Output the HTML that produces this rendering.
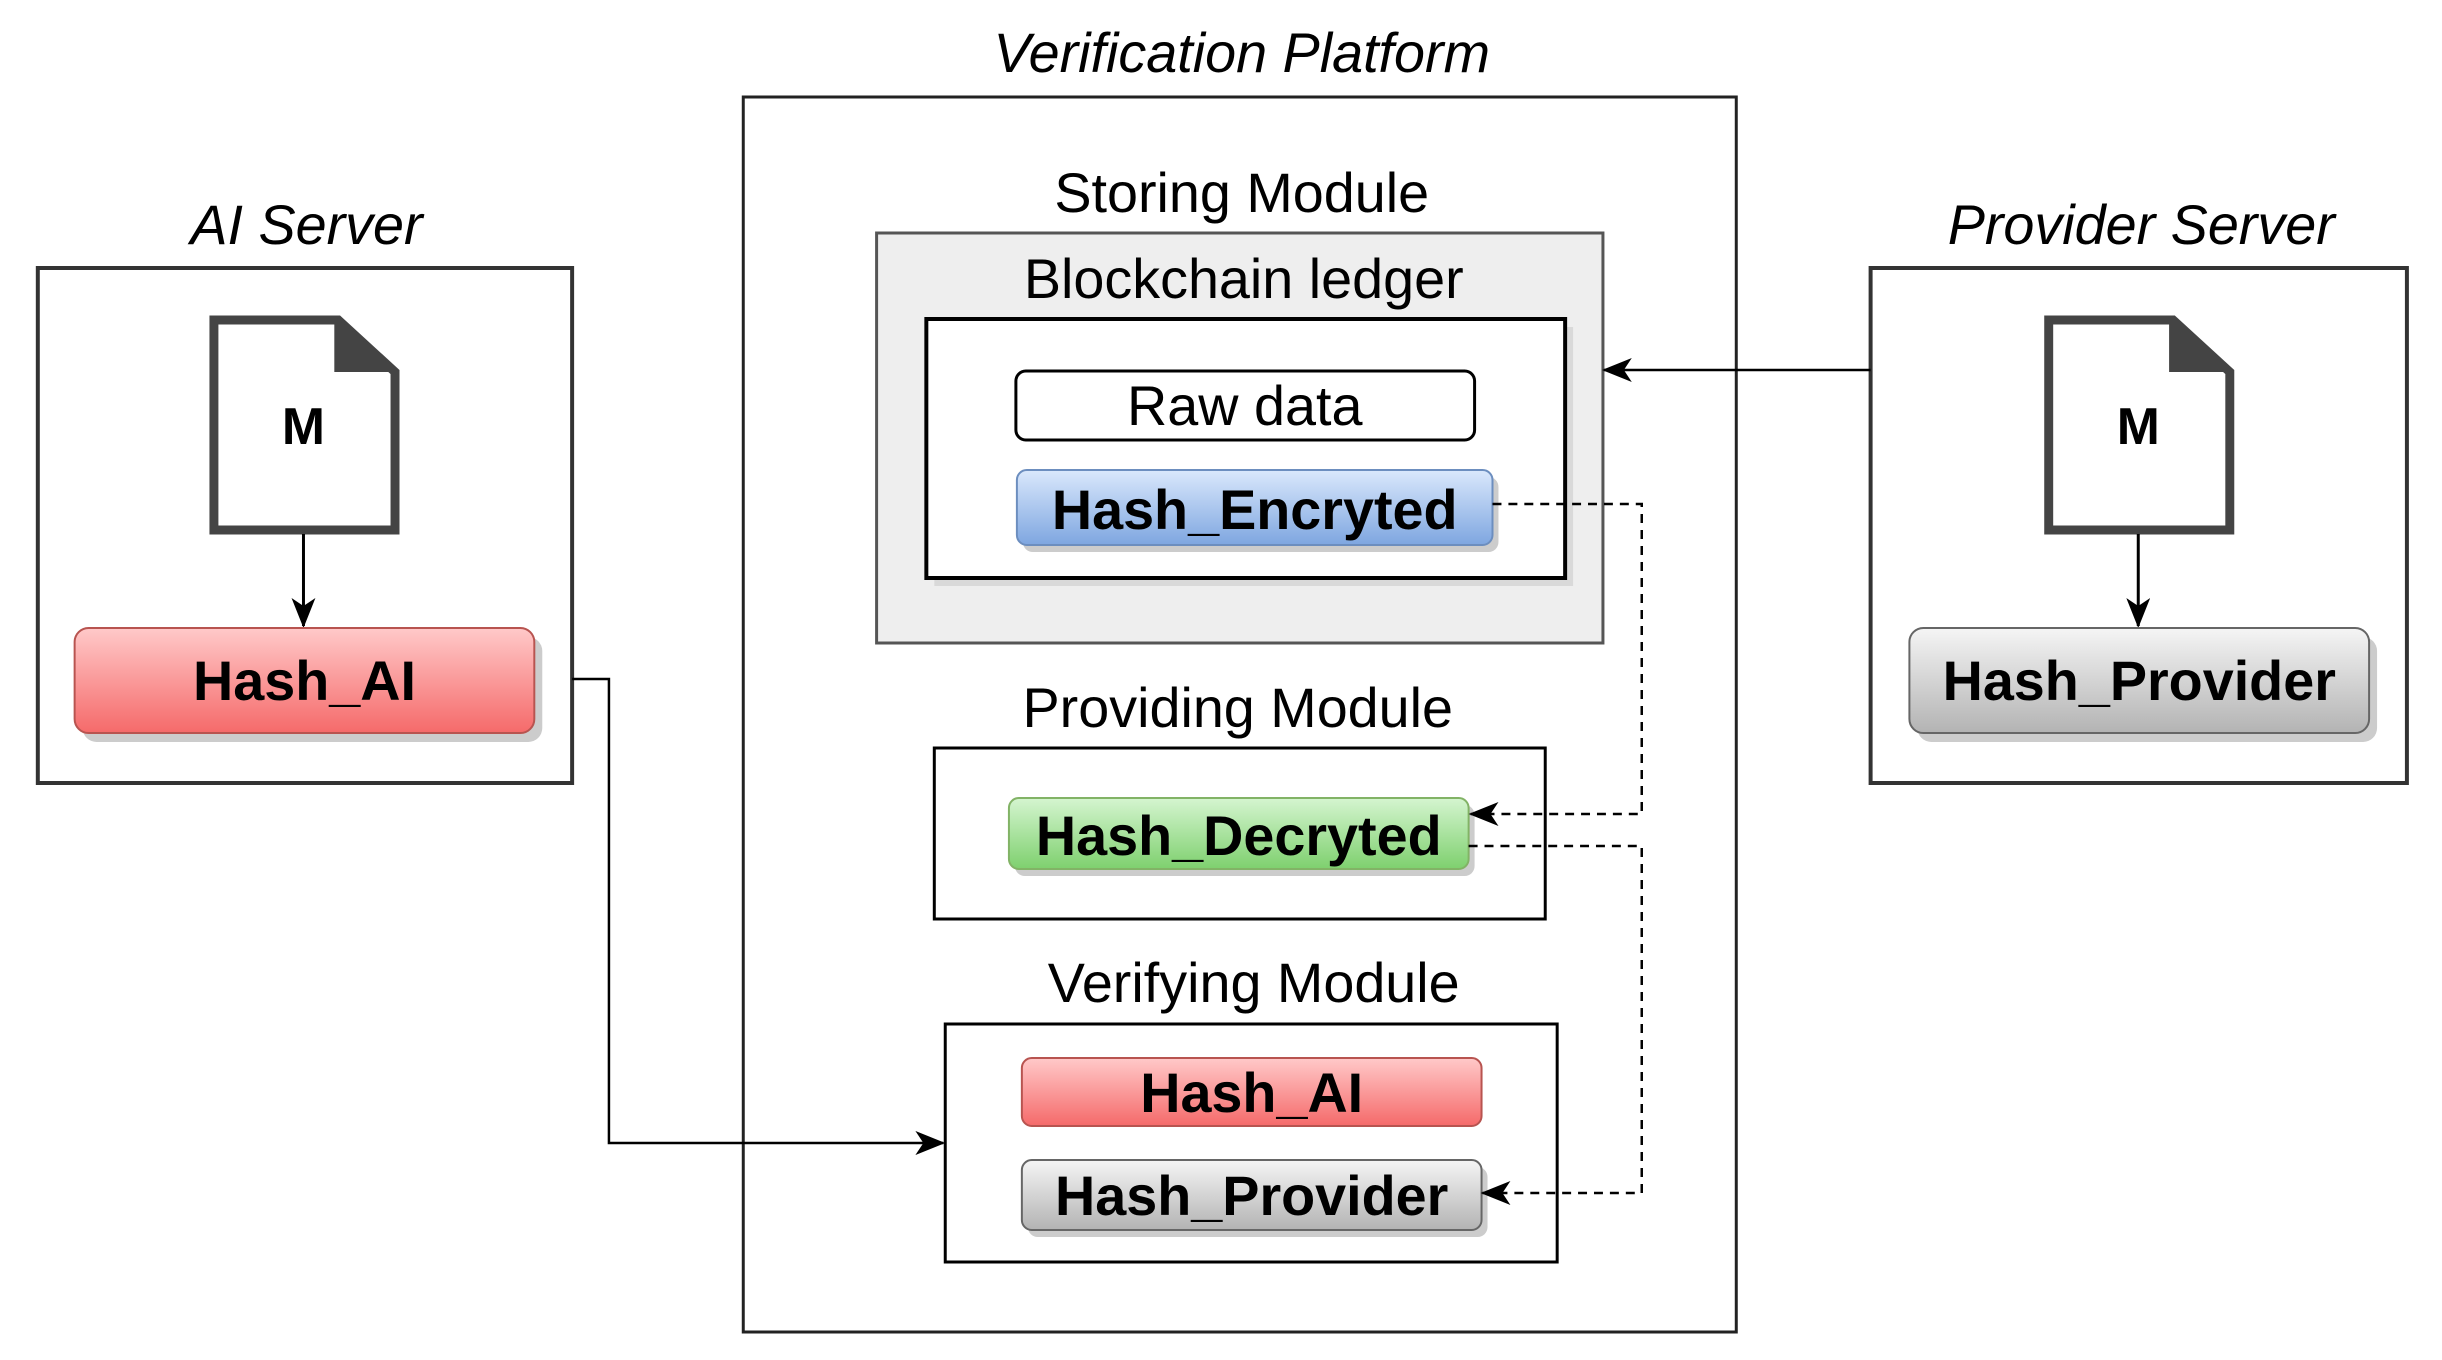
<!DOCTYPE html>
<html><head><meta charset="utf-8"><style>html,body{margin:0;padding:0;background:#fff}svg{display:block}</style></head>
<body>
<svg width="2442" height="1360" viewBox="0 0 2442 1360" xmlns="http://www.w3.org/2000/svg" font-family="Liberation Sans, DejaVu Sans, sans-serif">
<defs>
<linearGradient id="red" x1="0" y1="0" x2="0" y2="1"><stop offset="0" stop-color="#ffc9c9"/><stop offset="1" stop-color="#f56a6a"/></linearGradient>
<linearGradient id="gray" x1="0" y1="0" x2="0" y2="1"><stop offset="0" stop-color="#f5f5f5"/><stop offset="1" stop-color="#b3b3b3"/></linearGradient>
<linearGradient id="blue" x1="0" y1="0" x2="0" y2="1"><stop offset="0" stop-color="#dae8fc"/><stop offset="1" stop-color="#7ea6e0"/></linearGradient>
<linearGradient id="green" x1="0" y1="0" x2="0" y2="1"><stop offset="0" stop-color="#d5f5d0"/><stop offset="1" stop-color="#7ed06e"/></linearGradient>
<marker id="ar" markerWidth="30" markerHeight="24" refX="28" refY="12" orient="auto" markerUnits="userSpaceOnUse"><path d="M0,0 L30,12 L0,24 L8,12 Z" fill="#000"/></marker>
</defs>
<g transform="scale(0.995,1)">
<g font-size="56" text-anchor="middle">
<text x="1248" y="72" font-style="italic">Verification Platform</text>
<text x="308" y="244" font-style="italic">AI Server</text>
<text x="2152" y="244" font-style="italic">Provider Server</text>
</g>
<rect x="747" y="97" width="998" height="1235" fill="none" stroke="#222" stroke-width="3"/>
<text x="1248" y="212" font-size="56" text-anchor="middle">Storing Module</text>
<rect x="881" y="233" width="730" height="410" fill="#eeeeee" stroke="#555" stroke-width="3"/>
<text x="1250" y="298" font-size="56" text-anchor="middle">Blockchain ledger</text>
<rect x="939" y="327" width="642" height="259" fill="#ccc" opacity="0.6"/>
<rect x="931" y="319" width="642" height="259" fill="#fff" stroke="#000" stroke-width="4"/>
<rect x="1021" y="371" width="461" height="69" rx="10" fill="#fff" stroke="#000" stroke-width="3"/>
<text x="1251" y="425" font-size="56" text-anchor="middle">Raw data</text>
<rect x="1028" y="477" width="478" height="75" rx="10" fill="#ccc"/>
<rect x="1022" y="470" width="478" height="75" rx="10" fill="url(#blue)" stroke="#6c8ebf" stroke-width="2"/>
<text x="1261" y="529" font-size="56" font-weight="bold" text-anchor="middle">Hash_Encryted</text>
<text x="1244" y="727" font-size="56" text-anchor="middle">Providing Module</text>
<rect x="939" y="748" width="614" height="171" fill="#fff" stroke="#000" stroke-width="3"/>
<rect x="1020" y="805" width="462" height="71" rx="10" fill="#ccc"/>
<rect x="1014" y="798" width="462" height="71" rx="10" fill="url(#green)" stroke="#82b366" stroke-width="2"/>
<text x="1245" y="855" font-size="56" font-weight="bold" text-anchor="middle">Hash_Decryted</text>
<text x="1260" y="1002" font-size="56" text-anchor="middle">Verifying Module</text>
<rect x="950" y="1024" width="615" height="238" fill="#fff" stroke="#000" stroke-width="3"/>
<rect x="1027" y="1058" width="462" height="68" rx="10" fill="url(#red)" stroke="#b85450" stroke-width="2"/>
<text x="1258" y="1112" font-size="56" font-weight="bold" text-anchor="middle">Hash_AI</text>
<rect x="1033" y="1167" width="462" height="70" rx="10" fill="#ccc"/>
<rect x="1027" y="1160" width="462" height="70" rx="10" fill="url(#gray)" stroke="#666" stroke-width="2"/>
<text x="1258" y="1215" font-size="56" font-weight="bold" text-anchor="middle">Hash_Provider</text>
<rect x="38" y="268" width="537" height="515" fill="#fff" stroke="#333" stroke-width="4"/>
<path d="M215,320 L340,320 L397,372 L397,530 L215,530 Z" fill="#fff" stroke="#444" stroke-width="9"/>
<path d="M336,316 L401,372 L336,372 Z" fill="#444"/>
<text x="305" y="444" font-size="52" font-weight="bold" text-anchor="middle">M</text>
<line x1="305" y1="534" x2="305" y2="626" stroke="#000" stroke-width="3" marker-end="url(#ar)"/>
<rect x="83" y="637" width="462" height="105" rx="14" fill="#ccc"/>
<rect x="75" y="628" width="462" height="105" rx="14" fill="url(#red)" stroke="#b85450" stroke-width="2"/>
<text x="306" y="700" font-size="56" font-weight="bold" text-anchor="middle">Hash_AI</text>
<rect x="1880" y="268" width="539" height="515" fill="#fff" stroke="#333" stroke-width="4"/>
<path d="M2059,320 L2184,320 L2241,372 L2241,530 L2059,530 Z" fill="#fff" stroke="#444" stroke-width="9"/>
<path d="M2180,316 L2245,372 L2180,372 Z" fill="#444"/>
<text x="2149" y="444" font-size="52" font-weight="bold" text-anchor="middle">M</text>
<line x1="2149" y1="534" x2="2149" y2="626" stroke="#000" stroke-width="3" marker-end="url(#ar)"/>
<rect x="1927" y="637" width="462" height="105" rx="14" fill="#ccc"/>
<rect x="1919" y="628" width="462" height="105" rx="14" fill="url(#gray)" stroke="#666" stroke-width="2"/>
<text x="2150" y="700" font-size="56" font-weight="bold" text-anchor="middle">Hash_Provider</text>
<polyline points="575,679 612,679 612,1143 948,1143" fill="none" stroke="#000" stroke-width="2.5" marker-end="url(#ar)"/>
<line x1="1880" y1="370" x2="1612" y2="370" stroke="#000" stroke-width="2.5" marker-end="url(#ar)"/>
<g fill="none" stroke="#000" stroke-width="2.5" stroke-dasharray="9,7">
<polyline points="1500,504 1650,504 1650,814 1478,814" marker-end="url(#ar)"/>
<polyline points="1476,846 1650,846 1650,1193 1490,1193" marker-end="url(#ar)"/>
</g>
</g>
</svg>
</body></html>
